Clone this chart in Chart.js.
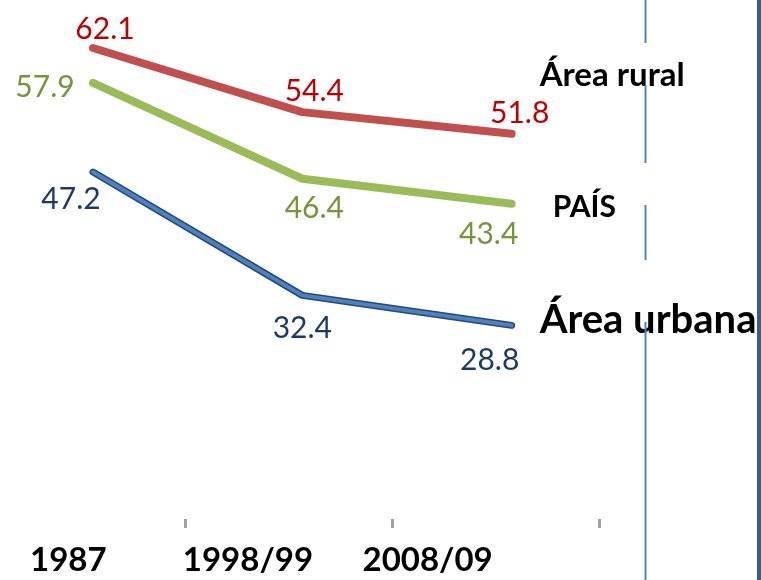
<!DOCTYPE html>
<html>
<head>
<meta charset="utf-8">
<script src="https://cdn.jsdelivr.net/npm/chart.js@4"></script>
<style>
  body { margin: 0; background: #fff; }
  #wrap { width: 761px; height: 580px; position: relative; }
</style>
</head>
<body>
<div id="wrap"><canvas id="Chart"></canvas></div>
<script>
const categories = ["1987", "1998/99", "2008/09"];
const rural = [62.1, 54.4, 51.8];
const pais = [57.9, 46.4, 43.4];
const urbana = [47.2, 32.4, 28.8];
const seriesNames = ["Área rural", "PAÍS", "Área urbana"];
// small gray marks between the periods
const tickMarks = [0.44, 1.43, 2.42];

const toPoints = (arr) => arr.map((v, i) => ({ x: i, y: v }));

// value labels: [dx, dy] from the point to the label centre
const valueLabels = {
  rural: { color: "#c00000", off: [[12, -20], [12, -22], [8, -22]] },
  pais: { color: "#77933c", off: [[-48, 3], [12, 28], [-23, 29]] },
  urbana: { color: "#1f3864", off: [[-22, 26], [0, 32], [-22, 34]] },
};

// series name next to the last point: dx to left edge, dy to baseline, font size
const nameLabels = {
  rural: { text: seriesNames[0], dx: 28, dy: -48, size: 33 },
  pais: { text: seriesNames[1], dx: 41, dy: 13, size: 30 },
  urbana: { text: seriesNames[2], dx: 28, dy: 8, size: 40 },
};

const labelPlugin = {
  id: "labels",
  afterDatasetsDraw(chart) {
    const ctx = chart.ctx;
    ctx.save();
    chart.data.datasets.forEach((ds, di) => {
      if (!ds.key) return;
      const meta = chart.getDatasetMeta(di);
      const cfg = valueLabels[ds.key];
      ctx.font = "30px Lato";
      ctx.fillStyle = cfg.color;
      ctx.textAlign = "center";
      ctx.textBaseline = "alphabetic";
      meta.data.forEach((pt, i) => {
        const [dx, dy] = cfg.off[i];
        ctx.fillText(ds.values[i].toFixed(1), pt.x + dx, pt.y + dy + 11);
      });
      const nl = nameLabels[ds.key];
      const last = meta.data[meta.data.length - 1];
      ctx.font = `bold ${nl.size}px Lato`;
      ctx.fillStyle = "#000";
      ctx.textAlign = "left";
      ctx.fillText(nl.text, last.x + nl.dx, last.y + nl.dy);
    });
    ctx.restore();
  },
  afterDraw(chart) {
    const ctx = chart.ctx;
    const { right } = chart.chartArea;
    ctx.save();
    // divider with gaps
    ctx.strokeStyle = "#4f81bd";
    ctx.lineWidth = 2;
    const segs = [[0, 43], [85, 163], [205, 260], [322, chart.height]];
    segs.forEach(([a, b]) => {
      ctx.beginPath();
      ctx.moveTo(right + 0.5, a);
      ctx.lineTo(right + 0.5, b);
      ctx.stroke();
    });
    // dark edge on the right
    ctx.fillStyle = "#3a5d8c";
    ctx.fillRect(chart.width - 4, 0, 4, chart.height);
    ctx.restore();
  },
};

const ctx = document.getElementById("Chart");
new Chart(ctx, {
  type: "line",
  data: {
    datasets: [
      {
        key: "rural",
        values: rural,
        data: toPoints(rural),
        borderColor: "#c0504d",
        borderWidth: 8,
      },
      {
        key: "pais",
        values: pais,
        data: toPoints(pais),
        borderColor: "#9bbb59",
        borderWidth: 8,
      },
      {
        key: "urbana",
        values: urbana,
        data: toPoints(urbana),
        borderColor: "#4f81bd",
        borderWidth: 4,
      },
      {
        data: toPoints(urbana),
        borderColor: "#24497a",
        borderWidth: 7,
      },
    ].map((d) => ({
      ...d,
      pointRadius: 0,
      tension: 0,
      fill: false,
      borderCapStyle: "round",
      borderJoinStyle: "round",
    })),
  },
  options: {
    responsive: true,
    maintainAspectRatio: false,
    animation: false,
    layout: { padding: { left: 0, right: 116, top: 0, bottom: -5 } },
    plugins: {
      legend: { display: false },
      tooltip: { enabled: false },
    },
    scales: {
      y: {
        display: false,
        min: 5.56,
        max: 67.86,
      },
      x: {
        type: "linear",
        position: "bottom",
        min: -0.4442,
        max: 2.637,
        afterBuildTicks: (axis) => {
          axis.ticks = tickMarks.map((v) => ({ value: v }));
        },
        grid: {
          display: true,
          drawOnChartArea: false,
          drawTicks: true,
          tickLength: 9,
          tickWidth: 3,
          tickColor: "#a0a0a0",
        },
        border: { display: false },
        ticks: { display: false },
      },
      x2: {
        type: "linear",
        position: "bottom",
        min: -0.38,
        max: 3.21,
        afterBuildTicks: (axis) => {
          axis.ticks = categories.map((c, i) => ({ value: i }));
        },
        grid: { display: false },
        border: { display: false },
        ticks: {
          color: "#000",
          padding: 10,
          maxRotation: 0,
          autoSkip: false,
          font: { family: "Lato", size: 33, weight: "bold", lineHeight: 0.88 },
          callback: (v) => categories[v],
        },
      },
    },
  },
  plugins: [labelPlugin],
});
</script>
</body>
</html>
